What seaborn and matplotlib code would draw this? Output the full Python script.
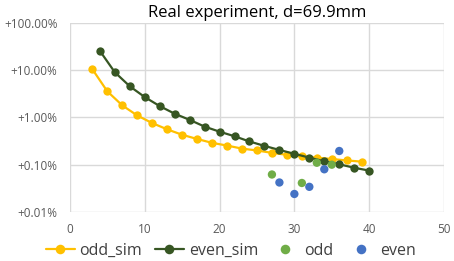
import numpy as np
import pandas as pd
import matplotlib
matplotlib.use("Agg")
import matplotlib.pyplot as plt
import seaborn as sns
from matplotlib.ticker import FuncFormatter, FixedLocator

# values in percent
odd_sim_x = [3, 5, 7, 9, 11, 13, 15, 17, 19, 21, 23, 25, 27, 29, 31, 33, 35, 37, 39]
odd_sim_y = [10.5, 3.57, 1.8, 1.1, 0.76, 0.56, 0.43, 0.35, 0.29, 0.254, 0.219, 0.2,
             0.178, 0.162, 0.15, 0.141, 0.132, 0.123, 0.116]
even_sim_x = [4, 6, 8, 10, 12, 14, 16, 18, 20, 22, 24, 26, 28, 30, 32, 34, 36, 38, 40]
even_sim_y = [25.7, 9.06, 4.57, 2.7, 1.74, 1.2, 0.89, 0.64, 0.5, 0.4, 0.31, 0.25,
              0.205, 0.17, 0.141, 0.118, 0.102, 0.086, 0.075]
odd_x = [27, 31, 33, 35]
odd_y = [0.062, 0.041, 0.11, 0.1]
even_x = [28, 30, 32, 34, 36]
even_y = [0.042, 0.024, 0.034, 0.08, 0.195]

sns.set_style("white")
plt.rcParams['font.family'] = ['Open Sans', 'DejaVu Sans']

fig = plt.figure(figsize=(4.54, 2.61), dpi=100)
ax = fig.add_axes([0.154, 0.188, 0.824, 0.724])

sim = pd.concat([
    pd.DataFrame({'x': odd_sim_x, 'y': odd_sim_y, 'series': 'odd_sim'}),
    pd.DataFrame({'x': even_sim_x, 'y': even_sim_y, 'series': 'even_sim'}),
])
meas = pd.concat([
    pd.DataFrame({'x': odd_x, 'y': odd_y, 'series': 'odd'}),
    pd.DataFrame({'x': even_x, 'y': even_y, 'series': 'even'}),
])
palette = {'odd_sim': '#FFC000', 'even_sim': '#375623', 'odd': '#70AD47', 'even': '#4472C4'}

sns.lineplot(data=sim, x='x', y='y', hue='series', palette=palette, marker='o',
             markersize=6, markeredgewidth=0, linewidth=1.6, ax=ax, zorder=3)
sns.scatterplot(data=meas, x='x', y='y', hue='series', palette=palette, s=36,
                linewidth=0, ax=ax, zorder=4)

ax.set_yscale('log')
ax.set_ylim(0.01, 100)
ax.set_xlim(0, 50)
ax.xaxis.set_major_locator(FixedLocator([0, 10, 20, 30, 40, 50]))
ax.yaxis.set_major_locator(FixedLocator([0.01, 0.1, 1, 10, 100]))
ax.yaxis.set_minor_locator(FixedLocator([]))
ax.yaxis.set_major_formatter(FuncFormatter(lambda v, p: f"+{v:.2f}%"))
ax.grid(True, color='#d9d9d9', linewidth=1)
for s in ax.spines.values():
    s.set_visible(False)
ax.tick_params(axis='both', length=0, labelsize=8.5, colors='#595959')
ax.tick_params(axis='y', pad=9)
ax.tick_params(axis='x', pad=8)
ax.set_xlabel('')
ax.set_ylabel('')
ax.set_title('Real experiment, d=69.9mm', fontsize=12, color='black', pad=4)

ax.legend(loc='lower center', bbox_to_anchor=(0.43, -0.265), ncol=4, frameon=False,
          fontsize=11.5, handlelength=1.8, handletextpad=0.3, columnspacing=0.8,
          markerscale=1.15, labelcolor='#404040', borderaxespad=0, borderpad=0.2)

fig.savefig('out.png', dpi=100)
